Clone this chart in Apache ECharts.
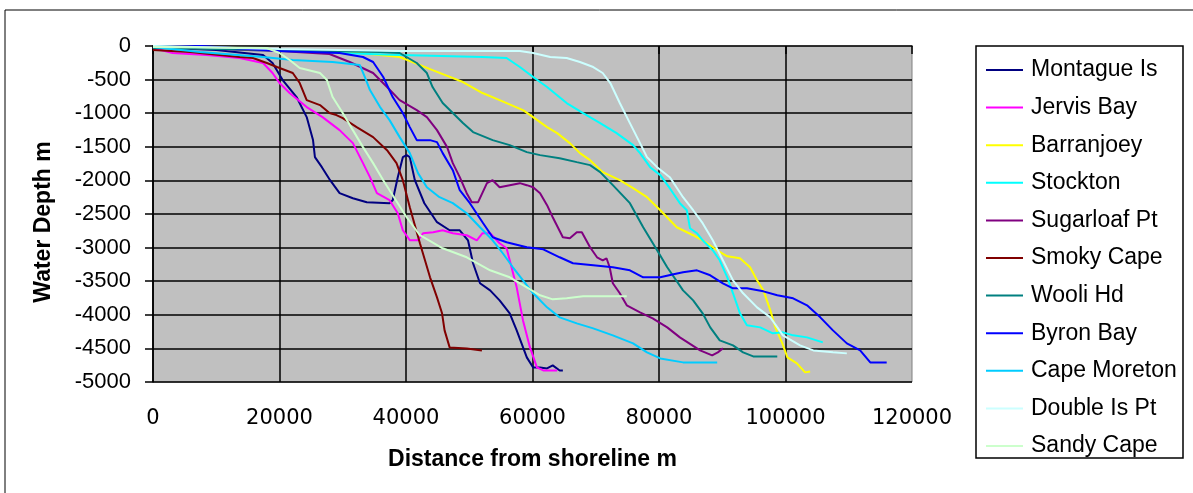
<!DOCTYPE html>
<html>
<head>
<meta charset="utf-8">
<script src="https://cdn.jsdelivr.net/npm/echarts@6/dist/echarts.min.js"></script>
<style>
  html, body { margin: 0; padding: 0; background: #fff; }
  #main { width: 1193px; height: 493px; }
</style>
</head>
<body>
<div id="main"></div>
<script>
var chartDom = document.getElementById('main');
var myChart = echarts.init(chartDom);
var option;

// profiles: [distance from shoreline (m), water depth (m)]
var montague = [[0,-20],[10000,-60],[17400,-134],[18900,-253],[20500,-507],[22700,-760],[24300,-1058],[25300,-1400],[25600,-1654],[26700,-1803],[28000,-1997],[29500,-2190],[31600,-2265],[33800,-2324],[37400,-2340],[37900,-2295],[38700,-1952],[39500,-1654],[40100,-1624],[40600,-1654],[41400,-1997],[42900,-2340],[44900,-2622],[46900,-2742],[48500,-2742],[49800,-2891],[50600,-3233],[51700,-3531],[53300,-3636],[54800,-3785],[56400,-3978],[57500,-4232],[59100,-4634],[60100,-4783],[61200,-4783],[62300,-4798],[63200,-4753],[64300,-4828],[64800,-4828]];
var jervis = [[0,-30],[3100,-104],[8500,-134],[13700,-179],[17400,-253],[18900,-402],[20000,-551],[21600,-700],[24300,-909],[26800,-1058],[29500,-1252],[31600,-1445],[33200,-1743],[34300,-1952],[35400,-2190],[37400,-2295],[38700,-2488],[39500,-2742],[40600,-2891],[41900,-2891],[42700,-2786],[44300,-2771],[45800,-2742],[47400,-2786],[49600,-2816],[51200,-2891],[52100,-2786],[53300,-2786],[54800,-2935],[55900,-3010],[56400,-3189],[57500,-3591],[58500,-4083],[59600,-4485],[60700,-4783],[61700,-4828],[63900,-4828]];
var barranjoey = [[0,-15],[20000,-60],[31100,-90],[39000,-164],[44200,-358],[49000,-536],[52100,-700],[54800,-805],[58500,-954],[60100,-1058],[62300,-1207],[63900,-1296],[65900,-1445],[67500,-1594],[69100,-1699],[71100,-1877],[73800,-1997],[75900,-2116],[78100,-2250],[80200,-2444],[82800,-2697],[85400,-2816],[87600,-2935],[89200,-3040],[90800,-3129],[92800,-3159],[94400,-3293],[95500,-3487],[96500,-3636],[97600,-3934],[98400,-4187],[99500,-4425],[100300,-4634],[101800,-4723],[103100,-4857],[103900,-4843]];
var stockton = [[0,0],[15300,-60],[39000,-134],[52100,-164],[55900,-179],[58000,-313],[60100,-462],[62300,-611],[65400,-849],[68000,-998],[70700,-1147],[73300,-1296],[75900,-1475],[77000,-1594],[78600,-1803],[80200,-1922],[81700,-2116],[83300,-2339],[84400,-2444],[84900,-2712],[86000,-2786],[86900,-2891],[88500,-3040],[89600,-3189],[90800,-3442],[91700,-3680],[92800,-3978],[93900,-4157],[96000,-4187],[98000,-4276],[99600,-4261],[101200,-4306],[103400,-4336],[105900,-4410]];
var sugarloaf = [[0,-15],[20000,-75],[27900,-119],[31100,-238],[34800,-402],[37000,-611],[39000,-805],[41700,-954],[43300,-1058],[44900,-1252],[46500,-1505],[47400,-1743],[48500,-1952],[49600,-2190],[50400,-2324],[51400,-2324],[52800,-2041],[53700,-1997],[54800,-2101],[56400,-2071],[58000,-2041],[59100,-2071],[60100,-2101],[61200,-2190],[62300,-2369],[63200,-2548],[64800,-2846],[65900,-2861],[67000,-2771],[67800,-2771],[69100,-2995],[70200,-3144],[71100,-3189],[71700,-3159],[72200,-3293],[72700,-3531],[73800,-3680],[74900,-3859],[77000,-3963],[79000,-4053],[81300,-4187],[83300,-4336],[86500,-4530],[88400,-4604],[89300,-4559],[90100,-4500]];
var smoky = [[0,-60],[5800,-90],[13700,-164],[15800,-179],[18000,-253],[19600,-313],[22100,-402],[23200,-551],[24300,-805],[26400,-879],[27900,-998],[29000,-1028],[30000,-1073],[32200,-1207],[34800,-1356],[37000,-1550],[38500,-1743],[39500,-1997],[40600,-2399],[42200,-2935],[43800,-3442],[44900,-3740],[45700,-3978],[46100,-4232],[46900,-4485],[49600,-4500],[52000,-4530]];
var wooli = [[0,-30],[20000,-60],[35900,-90],[39000,-104],[41700,-253],[43300,-402],[44200,-611],[45800,-849],[47400,-998],[49000,-1147],[50600,-1281],[53700,-1401],[56400,-1475],[59100,-1579],[61200,-1624],[64300,-1669],[67000,-1728],[69100,-1773],[70700,-1877],[72700,-2071],[75400,-2339],[77500,-2697],[79700,-3040],[81300,-3293],[83800,-3636],[85400,-3785],[86900,-3978],[88100,-4187],[89600,-4381],[91700,-4455],[93300,-4559],[94900,-4619],[98700,-4619]];
var byron = [[0,-15],[7700,0],[20000,-75],[29500,-104],[33200,-164],[34800,-238],[36400,-462],[37900,-760],[39500,-998],[40600,-1207],[41700,-1401],[43800,-1401],[44900,-1430],[45800,-1594],[47400,-1848],[48500,-2146],[50100,-2339],[52200,-2637],[53700,-2846],[55900,-2920],[59100,-2995],[61700,-3025],[64300,-3144],[66400,-3233],[69600,-3263],[72700,-3293],[75400,-3338],[77500,-3442],[80200,-3442],[82300,-3397],[83800,-3367],[86000,-3338],[88100,-3412],[90100,-3531],[91700,-3606],[93900,-3606],[96500,-3651],[98700,-3710],[101200,-3755],[103400,-3859],[105500,-4038],[107500,-4232],[109700,-4425],[111800,-4530],[113400,-4708],[116000,-4708]];
var moreton = [[0,-15],[7400,-90],[17400,-164],[22100,-209],[28400,-238],[32700,-283],[33500,-462],[34300,-656],[35900,-909],[37400,-1103],[39000,-1356],[40600,-1594],[41900,-1892],[43300,-2101],[45300,-2250],[47400,-2339],[49600,-2488],[51700,-2697],[53700,-2891],[55300,-3084],[56900,-3293],[58500,-3487],[60100,-3680],[62300,-3889],[64300,-4038],[67000,-4127],[69600,-4202],[72700,-4306],[75900,-4425],[78100,-4559],[80200,-4649],[83800,-4708],[89200,-4708]];
var doubleIs = [[0,0],[20000,-45],[39000,-75],[58000,-75],[60100,-104],[62800,-164],[65400,-179],[67500,-238],[69600,-313],[71100,-402],[72300,-551],[73800,-849],[75400,-1147],[77000,-1445],[78100,-1654],[79700,-1803],[81700,-1952],[83800,-2250],[85400,-2444],[86900,-2637],[88500,-2891],[90100,-3189],[91700,-3487],[93300,-3680],[95500,-3889],[97600,-4038],[99600,-4306],[102300,-4455],[104400,-4530],[107500,-4559],[109700,-4574]];
var sandy = [[0,-15],[18000,-30],[20000,-104],[21600,-209],[23200,-328],[26400,-402],[27500,-507],[28400,-760],[30000,-998],[31600,-1252],[33200,-1505],[34800,-1743],[36400,-1997],[37900,-2220],[40100,-2548],[42200,-2816],[45800,-3010],[49600,-3144],[53300,-3338],[56400,-3442],[59100,-3591],[61200,-3710],[63200,-3770],[65400,-3755],[68000,-3725],[70700,-3725],[74900,-3725]];

var seriesNames = ['Montague Is', 'Jervis Bay', 'Barranjoey', 'Stockton', 'Sugarloaf Pt', 'Smoky Cape', 'Wooli Hd', 'Byron Bay', 'Cape Moreton', 'Double Is Pt', 'Sandy Cape'];
var seriesData = [montague, jervis, barranjoey, stockton, sugarloaf, smoky, wooli, byron, moreton, doubleIs, sandy];
var colors = ['#000080', '#FF00FF', '#FFFF00', '#00FFFF', '#800080', '#800000', '#008080', '#0000FF', '#00CCFF', '#CCFFFF', '#CCFFCC'];

var series = seriesNames.map(function (name, i) {
  return {
    name: name,
    type: 'line',
    data: seriesData[i],
    symbol: 'none',
    showSymbol: false,
    animation: false,
    lineStyle: { width: 2, color: colors[i] },
    itemStyle: { color: colors[i] }
  };
});

function plain(v) { return String(v); }

option = {
  animation: false,
  backgroundColor: '#ffffff',
  color: colors,
  grid: {
    left: 153,
    right: 281,
    top: 46,
    bottom: 111,
    show: true,
    backgroundColor: '#C0C0C0',
    borderColor: '#808080',
    borderWidth: 1
  },
  legend: {
    orient: 'vertical',
    left: 986,
    top: 58,
    padding: 0,
    icon: 'rect',
    itemWidth: 37,
    itemHeight: 2,
    itemGap: 13.6,
    data: seriesNames,
    textStyle: {
      fontFamily: 'Liberation Sans',
      fontSize: 23,
      color: '#000',
      lineHeight: 24,
      padding: [0, 0, 0, 3]
    }
  },
  xAxis: {
    type: 'value',
    min: 0,
    max: 120000,
    interval: 20000,
    name: 'Distance from shoreline m',
    nameLocation: 'middle',
    nameGap: 66,
    nameTextStyle: { fontFamily: 'Liberation Sans', fontWeight: 'bold', fontSize: 23, color: '#000' },
    axisLine: { show: true, lineStyle: { color: '#000', width: 1.5 } },
    axisTick: { show: true, length: 8, lineStyle: { color: '#000', width: 1.5 } },
    axisLabel: { margin: 26, fontFamily: 'DejaVu Sans', fontSize: 21, color: '#000', formatter: plain },
    splitLine: { show: true, showMaxLine: false, lineStyle: { color: '#000', width: 1.5 } }
  },
  yAxis: {
    type: 'value',
    min: -5000,
    max: 0,
    interval: 500,
    name: 'Water Depth m',
    nameLocation: 'middle',
    nameRotate: 90,
    nameGap: 98,
    nameTextStyle: { fontFamily: 'Liberation Sans', fontWeight: 'bold', fontSize: 23, color: '#000', padding: [0, 16, 0, 0] },
    axisLine: { show: true, lineStyle: { color: '#000', width: 1.5 } },
    axisTick: { show: true, length: 8, lineStyle: { color: '#000', width: 1.5 } },
    axisLabel: { margin: 22, fontFamily: 'Liberation Sans', fontSize: 22, color: '#000', formatter: plain },
    splitLine: { show: true, showMaxLine: false, lineStyle: { color: '#000', width: 1.5 } }
  },
  graphic: [
    {
      type: 'rect',
      shape: { x: 5, y: 10, width: 1200, height: 500 },
      style: { fill: 'none', stroke: '#000', lineWidth: 1 },
      silent: true,
      z: -1
    },
    {
      type: 'rect',
      shape: { x: 976, y: 46, width: 207, height: 412 },
      style: { fill: 'none', stroke: '#000', lineWidth: 1.5 },
      silent: true,
      z: 0
    }
  ],
  series: series
};

option && myChart.setOption(option);
</script>
</body>
</html>
